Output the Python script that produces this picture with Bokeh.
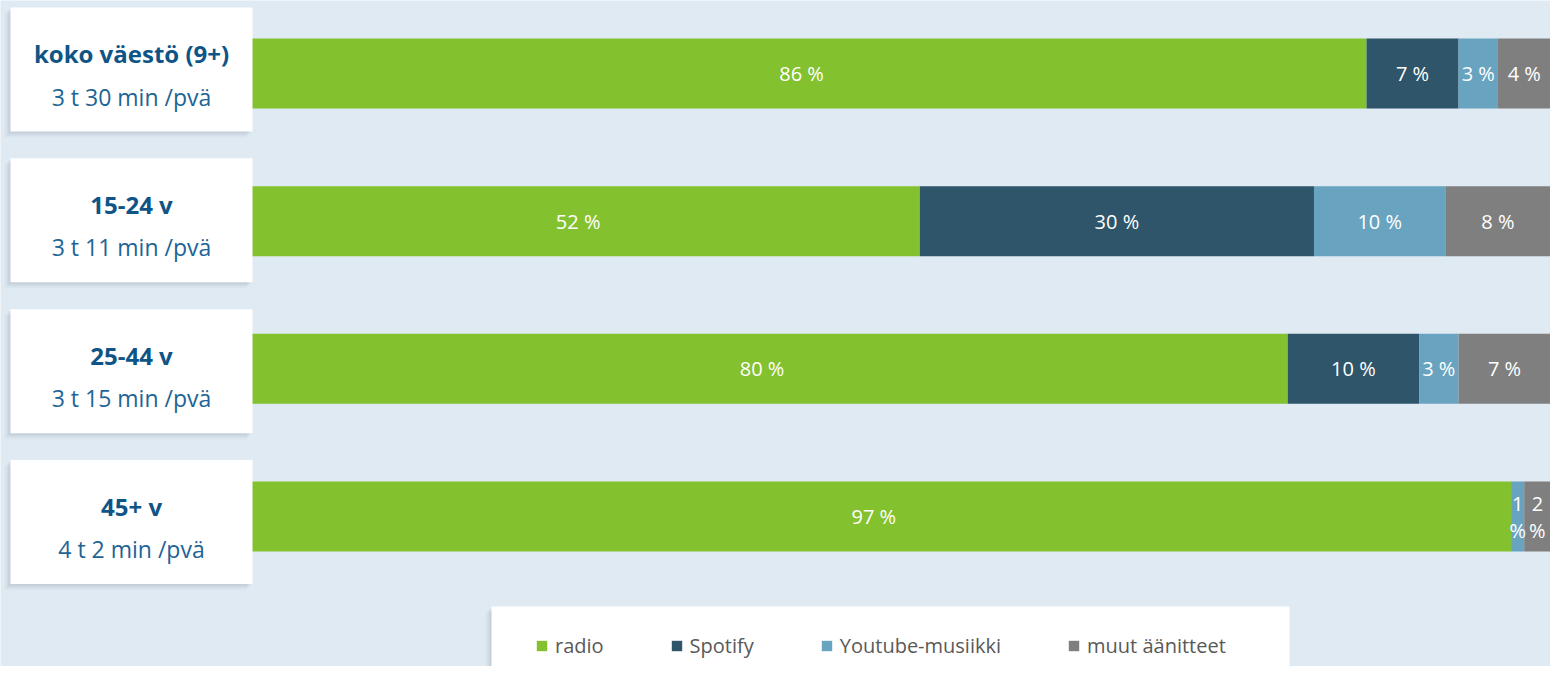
from bokeh.plotting import figure
from bokeh.models import ColumnDataSource, Range1d, Legend, LegendItem
from bokeh.core.properties import value
from bokeh.embed import file_html
from bokeh.resources import INLINE

# ---- data ----
groups = ["koko väestö (9+)", "15-24 v", "25-44 v", "45+ v"]
times = ["3 t 30 min /pvä", "3 t 11 min /pvä", "3 t 15 min /pvä", "4 t 2 min /pvä"]
series = ["radio", "Spotify", "Youtube-musiikki", "muut äänitteet"]
radio = [86, 52, 80, 97]
spotify = [7, 30, 10, 0]
youtube = [3, 10, 3, 1]
muut = [4, 8, 7, 2]
colors = ["#84c12f", "#2e5569", "#68a3c0", "#7f7f7f"]

# ---- layout helpers (pixels -> data) ----
W, H = 1550, 666
X0_PX = 236              # pixel of 0 %
PX_PER_X = (W - X0_PX) / 100.0
ROW0_PX = 73             # pixel of first row centre
ROW_PX = 147.67          # pixels between rows

def xd(px):
    return (px - X0_PX) / PX_PER_X

def yd(px):
    return (px - ROW0_PX) / ROW_PX

p = figure(width=W, height=H, output_backend="svg", toolbar_location=None,
           x_range=Range1d(xd(0), xd(W)), y_range=Range1d(yd(H), yd(0)),
           min_border=0, outline_line_color=None,
           background_fill_color="#dfeaf3", border_fill_color="#dfeaf3")
p.axis.visible = False
p.grid.visible = False

rows = list(range(len(groups)))
src = ColumnDataSource(dict(y=rows, radio=radio, spotify=spotify,
                            youtube=youtube, muut=muut))
keys = ["radio", "spotify", "youtube", "muut"]
renderers = p.hbar_stack(keys, y="y", height=70 / ROW_PX, color=colors,
                         line_color=None, source=src)

# ---- segment labels ----
lx, ly, lt = [], [], []
vals = [radio, spotify, youtube, muut]
for i in rows:
    left = 0
    for s in vals:
        v = s[i]
        if v > 0:
            lx.append(left + v / 2)
            ly.append(i)
            lt.append(f"{v}\n%" if v < 2.5 else f"{v} %")
        left += v
p.text(x=lx, y=ly, text=lt, text_align="center", text_baseline="middle",
       text_color="white", text_font=value("Open Sans"), text_font_size="20px",
       text_line_height=1.0)

# ---- cards ----
card_y = [i + (-4 + 3.2 * i) / ROW_PX for i in rows]
card_h = 124 / ROW_PX
CL, CR = 10, 252
cw = xd(CR) - xd(CL)
for k, a in [(6, 0.04), (4, 0.06), (2, 0.08)]:
    p.rect(x=[(xd(CL - k) + xd(CR - k)) / 2] * 4,
           y=[c + k / ROW_PX for c in card_y],
           width=cw, height=card_h, fill_color="#4a5a6a",
           fill_alpha=a, line_color=None)
cx = [(xd(CL) + xd(CR)) / 2] * 4
p.rect(x=cx, y=card_y, width=cw, height=card_h, fill_color="white",
       line_color=None)
p.text(x=cx, y=[c - 16 / ROW_PX for c in card_y], text=groups,
       text_align="center", text_baseline="middle", text_color="#0e5486",
       text_font=value("Open Sans"), text_font_style="bold",
       text_font_size="24px")
p.text(x=cx, y=[c + 27 / ROW_PX for c in card_y], text=times,
       text_align="center", text_baseline="middle", text_color="#1e6496",
       text_font=value("Open Sans"), text_font_size="23px")

# ---- legend box ----
LL, LR, LT = 491, 1289, 606
for k, a in [(6, 0.04), (4, 0.06), (2, 0.08)]:
    p.quad(left=[xd(LL - k)], right=[xd(LR - k)], top=[yd(LT + k)],
           bottom=[yd(H + 20)], fill_color="#4a5a6a", fill_alpha=a,
           line_color=None)
p.quad(left=[xd(LL)], right=[xd(LR)], top=[yd(LT)], bottom=[yd(H + 20)],
       fill_color="white", line_color=None)

legend = Legend(items=[LegendItem(label=s, renderers=[r])
                       for s, r in zip(series, renderers)],
                orientation="horizontal", location=(535, 7), spacing=66,
                glyph_width=13, glyph_height=13, label_standoff=7,
                label_text_font="Open Sans", label_text_font_size="20px",
                label_text_color="#595959", background_fill_alpha=0,
                border_line_alpha=0, padding=0, margin=0)
p.add_layout(legend)

open("out.html", "w").write(file_html(p, INLINE))
